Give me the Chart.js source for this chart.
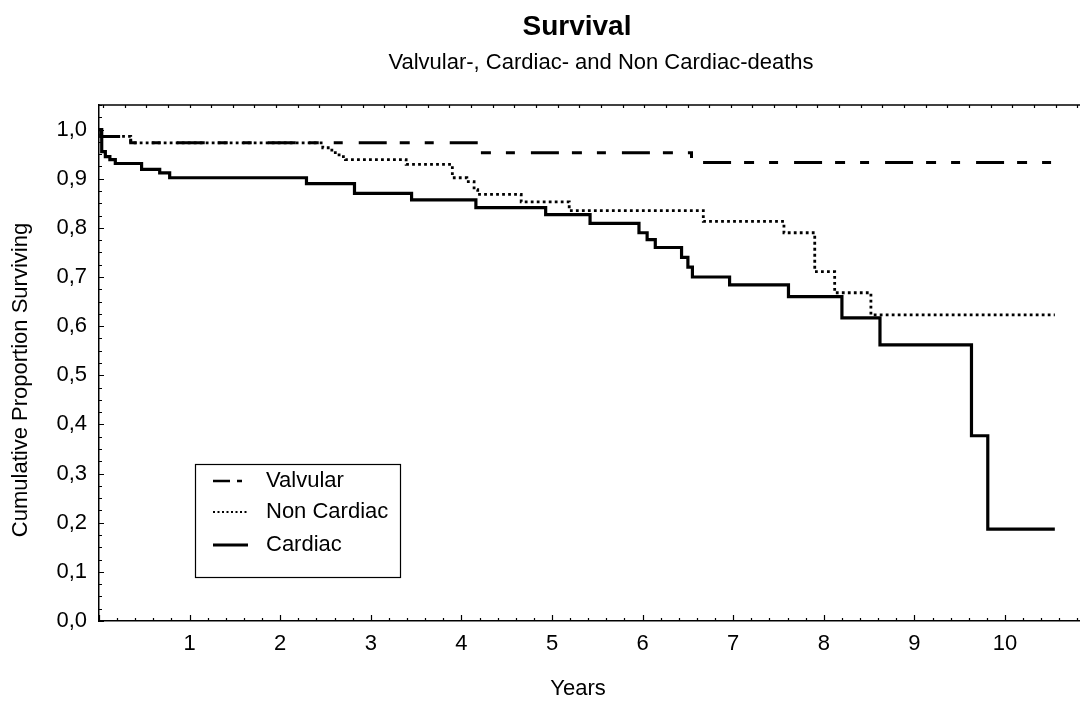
<!DOCTYPE html>
<html><head><meta charset="utf-8">
<script src="https://cdn.jsdelivr.net/npm/chart.js@4/dist/chart.umd.min.js"></script>
<style>
html,body{margin:0;padding:0;background:#fff;overflow:hidden;width:1080px;height:704px}
#wrap{position:relative;width:1110px;height:704px}
canvas{display:block}
</style></head>
<body><div id="wrap"><canvas id="c" width="1110" height="704"></canvas></div>
<script>
// ---- data ----
const seriesNames = ['Valvular', 'Non Cardiac', 'Cardiac'];
const valvularYears = [0, 0.02, 0.35, 4.20, 6.54, 10.55];
const valvularSurv  = [1.000, 0.986, 0.973, 0.953, 0.933, 0.933];
const nonCardiacYears = [0, 0.02, 0.35, 2.47, 2.57, 2.65, 2.72, 3.39, 3.90, 4.06, 4.14, 4.18, 4.66, 5.19, 6.67, 7.56, 7.90, 8.12, 8.52, 10.55];
const nonCardiacSurv  = [1.000, 0.986, 0.973, 0.963, 0.953, 0.945, 0.939, 0.929, 0.902, 0.894, 0.878, 0.868, 0.853, 0.835, 0.813, 0.790, 0.711, 0.668, 0.623, 0.623];
const cardiacYears = [0, 0.03, 0.07, 0.12, 0.18, 0.47, 0.67, 0.78, 2.29, 2.82, 3.45, 4.16, 4.93, 5.42, 5.96, 6.05, 6.14, 6.43, 6.50, 6.55, 6.96, 7.61, 8.20, 8.62, 9.63, 9.81, 10.55];
const cardiacSurv  = [1.000, 0.955, 0.945, 0.939, 0.931, 0.919, 0.912, 0.902, 0.890, 0.870, 0.857, 0.841, 0.827, 0.809, 0.790, 0.776, 0.760, 0.740, 0.720, 0.700, 0.684, 0.660, 0.617, 0.562, 0.377, 0.187, 0.187];
const xTickLabels = ['1', '2', '3', '4', '5', '6', '7', '8', '9', '10'];
const yTickLabels = ['0,0', '0,1', '0,2', '0,3', '0,4', '0,5', '0,6', '0,7', '0,8', '0,9', '1,0'];
const titleText = 'Survival';
const subtitleText = 'Valvular-, Cardiac- and Non Cardiac-deaths';
const xTitle = 'Years';
const yTitle = 'Cumulative Proportion Surviving';

// ---- build ----
const FONT = '"Liberation Sans", Arial, sans-serif';
const toPts = (xs, ys) => xs.map((x, i) => ({ x: x, y: ys[i] }));
const near = (v, s) => Math.abs(v / s - Math.round(v / s)) < 1e-6;

const styles = [
  { borderWidth: 3, borderDash: [28, 13, 10, 15, 9, 16], legendDash: [17, 7, 5, 100], legendWidth: 2.5 },
  { borderWidth: 2.8, borderDash: [2.8, 3.2], legendDash: [2, 2.5], legendWidth: 1.8 },
  { borderWidth: 3.2, borderDash: [], legendDash: [], legendWidth: 3 }
];
const seriesData = [toPts(valvularYears, valvularSurv), toPts(nonCardiacYears, nonCardiacSurv), toPts(cardiacYears, cardiacSurv)];

const decor = {
  id: 'decor',
  afterDraw(chart) {
    const { ctx, chartArea: a, scales: { x, y } } = chart;
    ctx.save();
    ctx.strokeStyle = '#000';
    // top frame
    ctx.lineWidth = 1.5;
    ctx.beginPath(); ctx.moveTo(a.left, a.top); ctx.lineTo(a.right, a.top); ctx.stroke();
    // inner ticks
    ctx.lineWidth = 1.2;
    ctx.beginPath();
    x.ticks.forEach(t => {
      const px = Math.round(x.getPixelForValue(t.value)) + 0.5;
      const len = near(t.value, 1) ? 6 : 3;
      ctx.moveTo(px, a.bottom); ctx.lineTo(px, a.bottom - len);
    });
    y.ticks.forEach(t => {
      const py = Math.round(y.getPixelForValue(t.value)) + 0.5;
      const len = near(t.value, 0.1) ? 5 : 3;
      ctx.moveTo(a.left, py); ctx.lineTo(a.left + len, py);
    });
    for (let v = 0.043; v < x.max; v += 0.239) {
      const px = Math.round(x.getPixelForValue(v)) + 0.5;
      ctx.moveTo(px, a.top); ctx.lineTo(px, a.top + 3);
    }
    ctx.stroke();

    // titles
    ctx.fillStyle = '#000';
    ctx.textAlign = 'center';
    ctx.textBaseline = 'middle';
    ctx.font = 'bold 28px ' + FONT;
    ctx.fillText(titleText, 577, 27);
    ctx.font = '22px ' + FONT;
    ctx.fillText(subtitleText, 601, 63);
    ctx.font = '22px ' + FONT;
    ctx.fillText(xTitle, 578, 689);
    ctx.save();
    ctx.translate(21, 380);
    ctx.rotate(-Math.PI / 2);
    ctx.fillText(yTitle, 0, 0);
    ctx.restore();

    // legend box
    const L = { left: 195.5, top: 464.5, right: 400.5, bottom: 577.5 };
    ctx.lineWidth = 1.2;
    ctx.setLineDash([]);
    ctx.strokeRect(L.left, L.top, L.right - L.left, L.bottom - L.top);
    const rows = [481, 512, 545];
    ctx.textAlign = 'left';
    ctx.font = '22px ' + FONT;
    chart.data.datasets.forEach((ds, i) => {
      const st = styles[i];
      ctx.save();
      ctx.lineWidth = st.legendWidth;
      ctx.setLineDash(st.legendDash);
      ctx.beginPath(); ctx.moveTo(213, rows[i]); ctx.lineTo(248, rows[i]); ctx.stroke();
      ctx.restore();
      ctx.fillText(ds.label, 266, rows[i]);
    });
    ctx.restore();
  }
};

new Chart(document.getElementById('c'), {
  type: 'line',
  data: {
    datasets: seriesNames.map((name, i) => ({
      label: name,
      data: seriesData[i],
      borderColor: '#000',
      backgroundColor: '#000',
      borderWidth: styles[i].borderWidth,
      borderDash: styles[i].borderDash,
      borderCapStyle: 'butt',
      borderJoinStyle: 'miter',
      stepped: 'before',
      pointRadius: 0,
      fill: false
    }))
  },
  options: {
    responsive: false,
    animation: false,
    devicePixelRatio: 1,
    layout: { padding: { left: 0, top: 105, right: 14.4, bottom: 0 } },
    plugins: { legend: { display: false }, tooltip: { enabled: false }, title: { display: false } },
    scales: {
      x: {
        type: 'linear', min: 0, max: 11,
        grid: { display: false, drawTicks: false },
        border: { display: true, color: '#000', width: 1.5 },
        ticks: {
          stepSize: 0.2, autoSkip: false, maxRotation: 0, maxTicksLimit: 1000,
          color: '#000', padding: 10, font: { family: FONT, size: 22 },
          callback: v => (near(v, 1) && v >= 1 && v <= 10) ? xTickLabels[Math.round(v) - 1] : ''
        },
        afterFit: s => { s.height = 83; }
      },
      y: {
        type: 'linear', min: 0, max: 1.05,
        grid: { display: false, drawTicks: false },
        border: { display: true, color: '#000', width: 1.5 },
        ticks: {
          stepSize: 0.025, autoSkip: false, maxTicksLimit: 1000,
          color: '#000', padding: 12, font: { family: FONT, size: 22 },
          callback: v => (near(v, 0.1) && v <= 1.0001) ? yTickLabels[Math.round(v * 10)] : ''
        },
        afterFit: s => { s.width = 99; }
      }
    }
  },
  plugins: [decor]
});
</script>
</body></html>
